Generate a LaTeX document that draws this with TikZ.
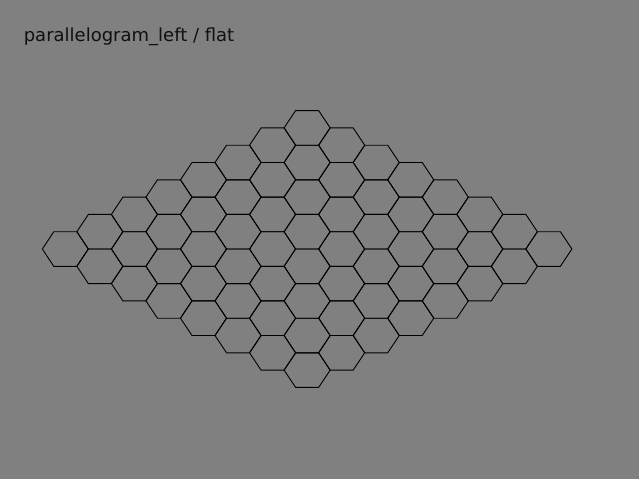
\documentclass[tikz,border=0pt]{standalone}
\usepackage{fontspec}
\setmainfont{DejaVu Sans}
\definecolor{bggray}{RGB}{128,128,128}
\definecolor{titlecol}{RGB}{16,16,16}
\tikzset{
  hexline/.style={draw=black, line width=0.9pt, line join=miter},
  titletext/.style={font=\fontsize{18pt}{20pt}\selectfont, text=titlecol, inner sep=0pt, anchor=base west}
}
\begin{document}
\begin{tikzpicture}[x=1pt,y=-1pt]
\fill[bggray] (0,0) rectangle (639,479);
\useasboundingbox (0,0) rectangle (639,479);
\node[titletext] (title) at (23.6,41) {parallelogram\_left / flat};
\foreach \i in {0,...,7}{
  \foreach \j in {0,...,7}{
    \pgfmathsetmacro{\cx}{65.33+34.54*(\i+\j)}
    \pgfmathsetmacro{\cy}{249+17.3*(\i-\j)}
    \coordinate (h-\i-\j) at (\cx,\cy);
    \draw[hexline, shift={(h-\i-\j)}] (-23.03,0) -- (-11.515,-17.3) -- (11.515,-17.3) -- (23.03,0) -- (11.515,17.3) -- (-11.515,17.3) -- cycle;
  }
}
\end{tikzpicture}
\end{document}
